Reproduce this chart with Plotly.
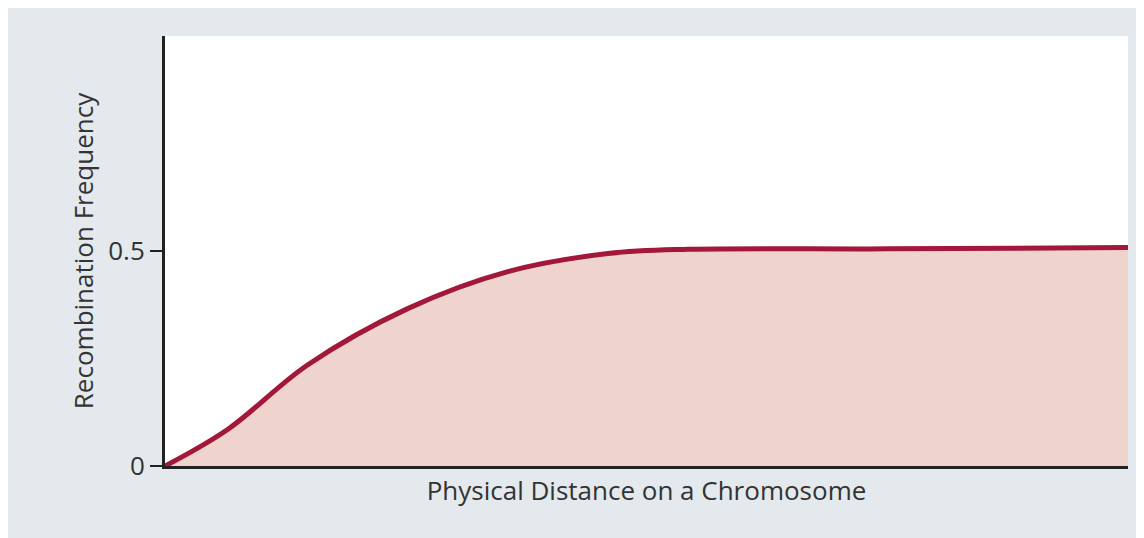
import plotly.graph_objects as go

# physical distance (arbitrary units) and recombination frequency
distance = [0, 6.5, 14.8, 25.2, 35.6, 46, 54.3, 75, 100]
rec_freq = [0, 0.085, 0.235, 0.366, 0.452, 0.494, 0.504, 0.505, 0.508]

fig = go.Figure()
fig.add_trace(go.Scatter(
    x=distance, y=rec_freq, mode="lines",
    line=dict(color="#a3173a", width=5, shape="spline", smoothing=1.0),
    fill="tozeroy", fillcolor="#efd3cd",
    hoverinfo="skip"
))

fig.update_layout(
    width=1144, height=538,
    margin=dict(l=157, r=24, t=28, b=80),
    paper_bgcolor="#e4e9ee", plot_bgcolor="white",
    showlegend=False,
    font=dict(family="Open Sans, sans-serif", color="#333333"),
)
fig.update_xaxes(
    range=[0, 100], showticklabels=False, showgrid=False, zeroline=False,
    showline=True, linecolor="#222", linewidth=3,
    title=dict(text="Physical Distance on a Chromosome", font=dict(size=26), standoff=14),
)
fig.update_yaxes(
    range=[0, 1.0], tickvals=[0, 0.5], ticktext=["0", "0.5"],
    ticks="outside", ticklen=12, tickwidth=2, tickcolor="#222",
    tickfont=dict(size=26), showgrid=False, zeroline=False,
    showline=True, linecolor="#222", linewidth=3,
    title=dict(text="Recombination Frequency", font=dict(size=26), standoff=8),
)

fig.write_html("out.html")
